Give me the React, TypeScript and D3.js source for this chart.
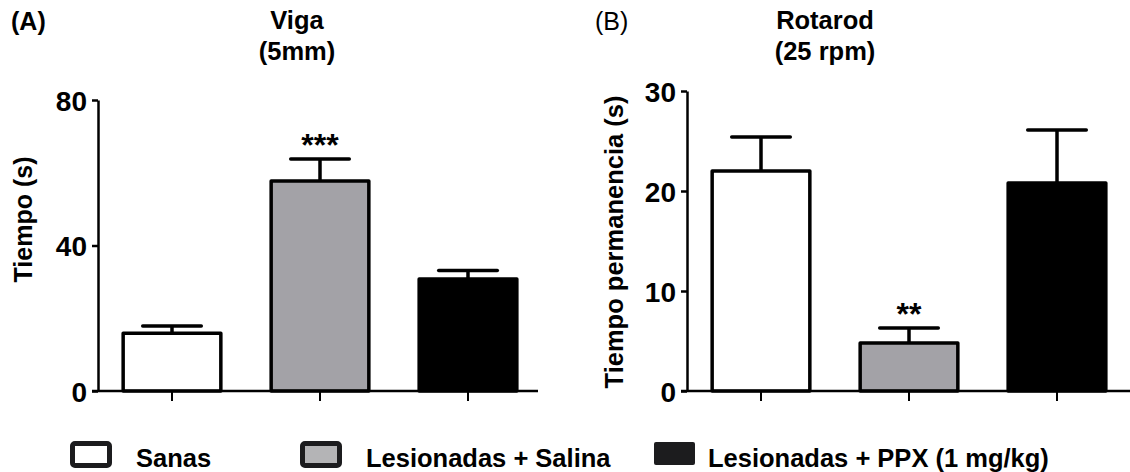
import React, { useEffect, useRef } from "react";
import * as d3 from "d3";

// groups shared by both panels
const groups = ["Sanas", "Lesionadas + Salina", "Lesionadas + PPX (1 mg/kg)"];
const groupFill = ["#ffffff", "#a3a2a7", "#000000"];

// (A) Viga 5mm, time in s (mean + SEM)
const vigaMean = [15.9, 57.7, 30.8];
const vigaSem = [2.0, 6.1, 2.3];
const vigaStars = ["", "***", ""];
const vigaTicks = [0, 40, 80];

// (B) Rotarod 25 rpm, time on rod in s (mean + SEM)
const rotarodMean = [22.0, 4.8, 20.8];
const rotarodSem = [3.4, 1.5, 5.3];
const rotarodStars = ["", "**", ""];
const rotarodTicks = [0, 10, 20, 30];

const FONT = "'Liberation Sans', Arial, Helvetica, sans-serif";

const App = () => {
  const ref = useRef<SVGSVGElement | null>(null);

  useEffect(() => {
    const svg = d3.select(ref.current);
    svg.selectAll("*").remove();

    const panel = (opts: any) => {
      const { x0, x1, axisEnd, yMax, ticks, means, sems, stars, tag, tagBold, tagX, title, titleX, yLabel, yLabelX, yLabelSize } = opts;
      const yZero = 391;
      const yTop = opts.yTop;

      const x = d3
        .scaleBand()
        .domain(groups)
        .range([x0, x1])
        .paddingInner(0.34)
        .paddingOuter(0.17);
      const y = d3.scaleLinear().domain([0, yMax]).range([yZero, yTop]);

      const g = svg.append("g");

      // panel tag and title
      g.append("text")
        .attr("x", tagX)
        .attr("y", 30)
        .attr("font-size", 25)
        .attr("font-weight", tagBold ? "bold" : "normal")
        .text(tag);
      title.forEach((t: string, i: number) => {
        g.append("text")
          .attr("x", titleX)
          .attr("y", 29 + i * 31)
          .attr("text-anchor", "middle")
          .attr("font-size", 25.5)
          .attr("font-weight", "bold")
          .text(t);
      });

      // bars
      g.selectAll("rect.bar")
        .data(means)
        .enter()
        .append("rect")
        .attr("class", "bar")
        .attr("x", (d: number, i: number) => x(groups[i]) as number)
        .attr("y", (d: number) => y(d))
        .attr("width", x.bandwidth())
        .attr("height", (d: number) => yZero - y(d))
        .attr("fill", (d: number, i: number) => groupFill[i])
        .attr("stroke", "#000")
        .attr("stroke-width", 3.5)
        .attr("stroke-linejoin", "round");

      // error bars (upper only)
      const capW = x.bandwidth() * 0.6;
      means.forEach((m: number, i: number) => {
        const cx = (x(groups[i]) as number) + x.bandwidth() / 2;
        const top = y(m + sems[i]);
        g.append("line")
          .attr("x1", cx)
          .attr("x2", cx)
          .attr("y1", y(m))
          .attr("y2", top)
          .attr("stroke", "#000")
          .attr("stroke-width", 3.5);
        g.append("line")
          .attr("x1", cx - capW / 2)
          .attr("x2", cx + capW / 2)
          .attr("y1", top)
          .attr("y2", top)
          .attr("stroke", "#000")
          .attr("stroke-width", 3.5)
          .attr("stroke-linecap", "round");
        if (stars[i]) {
          g.append("text")
            .attr("x", cx)
            .attr("y", top - 3)
            .attr("text-anchor", "middle")
            .attr("font-size", 32)
            .attr("font-weight", "bold")
            .text(stars[i]);
        }
      });

      // y axis
      const yAxis = d3
        .axisLeft(y)
        .tickValues(ticks)
        .tickSize(6)
        .tickSizeOuter(0)
        .tickPadding(5)
        .tickFormat(d3.format("d"));
      const ya = g.append("g").attr("transform", `translate(${x0},0)`).call(yAxis);
      ya.select(".domain").attr("stroke", "#000").attr("stroke-width", 2.5);
      ya.selectAll(".tick line").attr("stroke", "#000").attr("stroke-width", 2.5);
      ya.selectAll(".tick text")
        .attr("font-family", FONT)
        .attr("font-size", 28)
        .attr("font-weight", "bold")
        .attr("fill", "#000")
        .attr("dy", "0.36em");

      // x axis
      const xAxis = d3.axisBottom(x).tickSize(10).tickSizeOuter(0).tickFormat(() => "");
      const xa = g.append("g").attr("transform", `translate(0,${yZero})`).call(xAxis);
      xa.select(".domain").attr("d", `M${x0 - 6},0H${axisEnd}`).attr("stroke", "#000").attr("stroke-width", 2.5);
      xa.selectAll(".tick line").attr("stroke", "#000").attr("stroke-width", 2);

      // y label
      g.append("text")
        .attr("transform", `translate(${yLabelX},${(yZero + yTop) / 2 + opts.yLabelShift}) rotate(-90)`)
        .attr("text-anchor", "middle")
        .attr("font-size", yLabelSize)
        .attr("font-weight", "bold")
        .text(yLabel);
    };

    panel({
      x0: 98,
      x1: 542,
      axisEnd: 538,
      yTop: 100,
      yMax: 80,
      ticks: vigaTicks,
      means: vigaMean,
      sems: vigaSem,
      stars: vigaStars,
      tag: "(A)",
      tagBold: true,
      tagX: 11,
      title: ["Viga", "(5mm)"],
      titleX: 297,
      yLabel: "Tiempo (s)",
      yLabelX: 32,
      yLabelSize: 25,
      yLabelShift: -26,
    });

    panel({
      x0: 687,
      x1: 1131,
      axisEnd: 1130,
      yTop: 91,
      yMax: 30,
      ticks: rotarodTicks,
      means: rotarodMean,
      sems: rotarodSem,
      stars: rotarodStars,
      tag: "(B)",
      tagBold: false,
      tagX: 595,
      title: ["Rotarod", "(25 rpm)"],
      titleX: 825,
      yLabel: "Tiempo permanencia (s)",
      yLabelX: 623,
      yLabelSize: 25.5,
      yLabelShift: 1,
    });

    // legend
    const legendX = [70, 300, 654];
    const legendTextX = [136, 366, 708];
    const leg = svg.append("g");
    groups.forEach((name, i) => {
      if (i < 2) {
        leg.append("rect")
          .attr("x", legendX[i] + 2.5)
          .attr("y", 443.5)
          .attr("width", 37)
          .attr("height", 22)
          .attr("rx", 2.5)
          .attr("fill", i === 0 ? "#ffffff" : "#b4b4b6")
          .attr("stroke", "#1c1c1e")
          .attr("stroke-width", 5);
      } else {
        leg.append("rect")
          .attr("x", legendX[i])
          .attr("y", 442)
          .attr("width", 41)
          .attr("height", 23)
          .attr("rx", 2)
          .attr("fill", "#1c1c1e");
      }
      leg.append("text")
        .attr("x", legendTextX[i])
        .attr("y", 467)
        .attr("font-size", 25.5)
        .attr("font-weight", "bold")
        .text(name);
    });
  }, []);

  return (
    <div style={{ position: "absolute", left: 0, top: 0 }}>
      <svg
        ref={ref}
        width={1130}
        height={472}
        style={{ display: "block", background: "#fff", fontFamily: FONT }}
      />
    </div>
  );
};

export default App;
